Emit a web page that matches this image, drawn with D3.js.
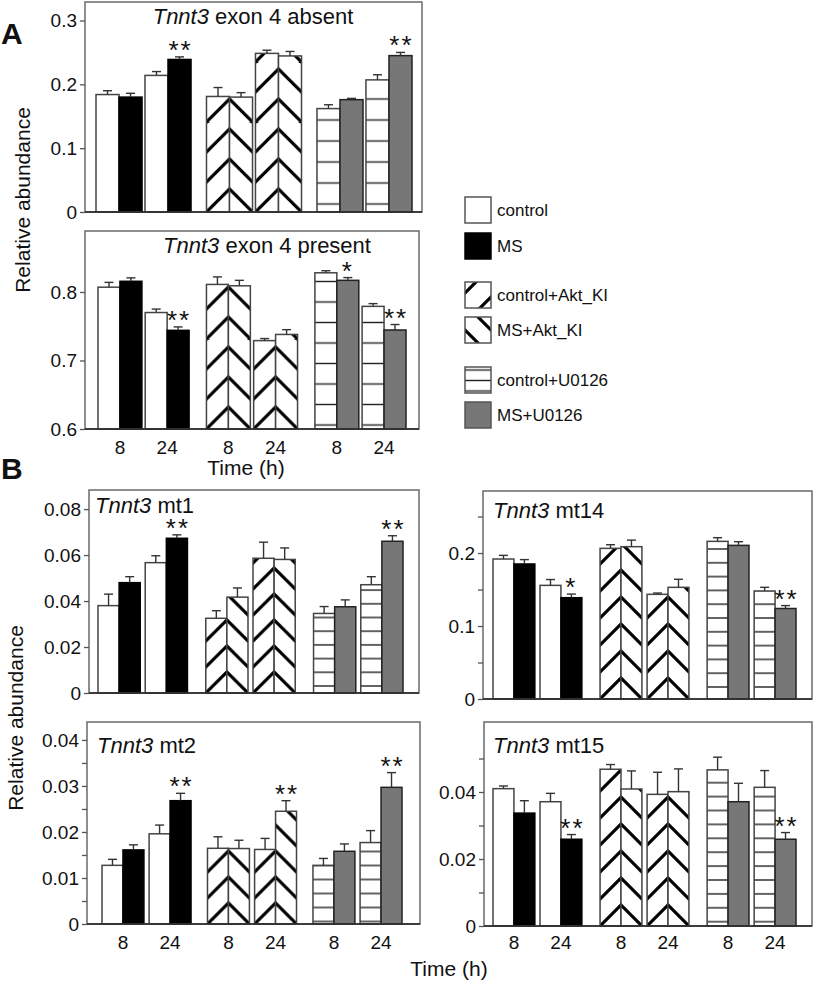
<!DOCTYPE html>
<html><head><meta charset="utf-8">
<script src="https://cdn.jsdelivr.net/npm/d3@7"></script>
<style>
body{margin:0;background:#fff}
svg{display:block}
text{font-family:"Liberation Sans",Arial,Helvetica,sans-serif;fill:#111}
</style>
</head><body>
<svg id="c" width="815" height="990"></svg>
<script>
// ---------------- DATA ----------------
const conditions = ["control", "MS", "control+Akt_KI", "MS+Akt_KI", "control+U0126", "MS+U0126"];
const treatmentGroups = ["vehicle", "Akt_KI", "U0126"];
const timeLabels = ["8", "24"];

// bar order: [group][time][control, MS]
const exon4AbsentValues = [0.184, 0.180, 0.214, 0.239, 0.181, 0.180, 0.2485, 0.2445, 0.162, 0.176, 0.207, 0.245];
const exon4AbsentErrors = [0.006, 0.006, 0.006, 0.004, 0.014, 0.007, 0.005, 0.007, 0.006, 0.002, 0.008, 0.005];
const exon4AbsentSig    = ["", "", "", "**", "", "", "", "", "", "", "", "**"];

const exon4PresentValues = [0.807, 0.8156, 0.770, 0.744, 0.811, 0.809, 0.729, 0.738, 0.828, 0.817, 0.779, 0.7445];
const exon4PresentErrors = [0.007, 0.005, 0.005, 0.005, 0.011, 0.008, 0.003, 0.007, 0.003, 0.004, 0.004, 0.008];
const exon4PresentSig    = ["", "", "", "**", "", "", "", "", "", "*", "", "**"];

const mt1Values = [0.038, 0.048, 0.0567, 0.0673, 0.0325, 0.0417, 0.0586, 0.0581, 0.0346, 0.0375, 0.0471, 0.066];
const mt1Errors = [0.005, 0.0026, 0.003, 0.0015, 0.0033, 0.004, 0.007, 0.005, 0.003, 0.003, 0.0035, 0.0024];
const mt1Sig    = ["", "", "", "**", "", "", "", "", "", "", "", "**"];

const mt14Values = [0.1918, 0.185, 0.1557, 0.1388, 0.2064, 0.2087, 0.1434, 0.153, 0.216, 0.2105, 0.148, 0.124];
const mt14Errors = [0.005, 0.006, 0.008, 0.005, 0.005, 0.009, 0.0018, 0.011, 0.005, 0.005, 0.005, 0.004];
const mt14Sig    = ["", "", "", "*", "", "", "", "", "", "", "", "**"];

const mt2Values = [0.01275, 0.0161, 0.0196, 0.0268, 0.01645, 0.0164, 0.0162, 0.0245, 0.01275, 0.0158, 0.0177, 0.0297];
const mt2Errors = [0.0013, 0.0011, 0.0019, 0.0016, 0.0025, 0.0018, 0.0024, 0.0023, 0.0015, 0.0016, 0.0026, 0.0032];
const mt2Sig    = ["", "", "", "**", "", "", "", "**", "", "", "", "**"];

const mt15Values = [0.041, 0.0337, 0.0371, 0.0259, 0.0468, 0.0409, 0.0393, 0.0401, 0.0466, 0.0371, 0.0414, 0.0259];
const mt15Errors = [0.0008, 0.0037, 0.0025, 0.0014, 0.0014, 0.0054, 0.0066, 0.0068, 0.0038, 0.0055, 0.005, 0.002];
const mt15Sig    = ["", "", "", "**", "", "", "", "", "", "", "", "**"];

const exon4AbsentTicks = [0, 0.1, 0.2, 0.3];
const exon4AbsentTickLabels = ["0", "0.1", "0.2", "0.3"];
const exon4PresentTicks = [0.6, 0.7, 0.8];
const exon4PresentTickLabels = ["0.6", "0.7", "0.8"];
const mt1Ticks = [0, 0.02, 0.04, 0.06, 0.08];
const mt1TickLabels = ["0", "0.02", "0.04", "0.06", "0.08"];
const mt14Ticks = [0, 0.05, 0.1, 0.15, 0.2, 0.25];
const mt14TickLabels = ["0", "", "0.1", "", "0.2", ""];
const mt2Ticks = [0, 0.005, 0.01, 0.015, 0.02, 0.025, 0.03, 0.035, 0.04];
const mt2TickLabels = ["0", "", "0.01", "", "0.02", "", "0.03", "", "0.04"];
const mt15Ticks = [0, 0.01, 0.02, 0.03, 0.04, 0.05];
const mt15TickLabels = ["0", "", "0.02", "", "0.04", ""];

// ---------------- LAYOUT ----------------
const FONT = '"Liberation Sans",Arial,Helvetica,sans-serif';
const panels = [
  {values: exon4AbsentValues, errors: exon4AbsentErrors, sig: exon4AbsentSig, ticks: exon4AbsentTicks, tickLabels: exon4AbsentTickLabels,
   rest: " exon 4 absent", domain: [0, 0.329], frame: {l: 85, r: 422, t: 2, b: 212}, bars: [96, 412], gp: 0.14, pp: 0.06,
   title: {x: 253, y: 24, anchor: "middle"}, xlab: null, diagP: 30, horizP: 21, horizOff: 8},
  {values: exon4PresentValues, errors: exon4PresentErrors, sig: exon4PresentSig, ticks: exon4PresentTicks, tickLabels: exon4PresentTickLabels,
   rest: " exon 4 present", domain: [0.6, 0.889], frame: {l: 85, r: 419, t: 231, b: 429}, bars: [98, 406], gp: 0.16, pp: 0.07,
   title: {x: 267, y: 253, anchor: "middle"}, xlab: 454, diagP: 30, horizP: 20.5, horizOff: 4},
  {values: mt1Values, errors: mt1Errors, sig: mt1Sig, ticks: mt1Ticks, tickLabels: mt1TickLabels,
   rest: " mt1", domain: [0, 0.0883], frame: {l: 89, r: 419, t: 490, b: 693}, bars: [98, 403], gp: 0.17, pp: 0.106,
   title: {x: 95, y: 513, anchor: "start"}, xlab: null, diagP: 26, horizP: 13.7, horizOff: 7},
  {values: mt14Values, errors: mt14Errors, sig: mt14Sig, ticks: mt14Ticks, tickLabels: mt14TickLabels,
   rest: " mt14", domain: [0, 0.285], frame: {l: 483, r: 812, t: 491, b: 699}, bars: [493, 796], gp: 0.17, pp: 0.11,
   title: {x: 493, y: 518, anchor: "start"}, xlab: null, diagP: 27, horizP: 13.8, horizOff: 12},
  {values: mt2Values, errors: mt2Errors, sig: mt2Sig, ticks: mt2Ticks, tickLabels: mt2TickLabels,
   rest: " mt2", domain: [0, 0.0439], frame: {l: 87, r: 420, t: 722, b: 924}, bars: [102, 402], gp: 0.156, pp: 0.11,
   title: {x: 97, y: 753, anchor: "start"}, xlab: 949, diagP: 26, horizP: 14, horizOff: 2.5},
  {values: mt15Values, errors: mt15Errors, sig: mt15Sig, ticks: mt15Ticks, tickLabels: mt15TickLabels,
   rest: " mt15", domain: [0, 0.0609], frame: {l: 484, r: 812, t: 722, b: 926}, bars: [493, 796], gp: 0.17, pp: 0.11,
   title: {x: 493, y: 753, anchor: "start"}, xlab: 949, diagP: 27, horizP: 13.9, horizOff: 4.3}
];

const styleOf = {
  "control":        {fill: "#fff", stroke: "#444"},
  "MS":             {fill: "#000", stroke: "#000"},
  "control+Akt_KI": {pattern: "fwd", stroke: "#444"},
  "MS+Akt_KI":      {pattern: "back", stroke: "#444"},
  "control+U0126":  {pattern: "horiz", stroke: "#444"},
  "MS+U0126":       {fill: "#777", stroke: "#222"}
};

const svg = d3.select("#c");
const defs = svg.append("defs");
let patCount = 0;
function makePattern(type, x, y, w, period, phase) {
  const id = "pat" + (patCount++);
  const p = defs.append("pattern").attr("id", id).attr("patternUnits", "userSpaceOnUse")
    .attr("x", x).attr("y", y + (phase || 0)).attr("width", w).attr("height", period);
  p.append("rect").attr("width", w).attr("height", period).attr("fill", "#fff");
  if (type === "fwd" || type === "back") {
    const n = Math.ceil(w / period) + 2;
    for (let j = -1; j <= n; j++) {
      const c = j * period;
      const ln = p.append("line").attr("stroke", "#000").attr("stroke-width", 3.2);
      if (type === "fwd") ln.attr("x1", -2).attr("y1", c + 2).attr("x2", w + 2).attr("y2", c - w - 2);
      else ln.attr("x1", -2).attr("y1", c - w - 2).attr("x2", w + 2).attr("y2", c + 2);
    }
  } else {
    p.append("line").attr("x1", 0).attr("x2", w).attr("y1", period / 2).attr("y2", period / 2)
      .attr("stroke", "#222").attr("stroke-width", 1.4);
  }
  return `url(#${id})`;
}

function drawPanel(P) {
  const g = svg.append("g");
  const f = P.frame;
  const y = d3.scaleLinear().domain(P.domain).range([f.b, f.t]);
  const x0 = d3.scaleBand().domain(treatmentGroups).range(P.bars).paddingInner(P.gp).paddingOuter(0);
  const x1 = d3.scaleBand().domain(timeLabels).range([0, x0.bandwidth()]).paddingInner(P.pp).paddingOuter(0);
  const x2 = d3.scaleBand().domain(["control", "treated"]).range([0, x1.bandwidth()]);

  const data = P.values.map((v, i) => {
    const gi = Math.floor(i / 4), ti = Math.floor((i % 4) / 2), k = i % 2;
    return {v, e: P.errors[i], sig: P.sig[i], grp: treatmentGroups[gi], time: timeLabels[ti],
            k: k ? "treated" : "control", cond: conditions[gi * 2 + k]};
  });
  data.forEach(d => {
    d.x = x0(d.grp) + x1(d.time) + x2(d.k);
    d.w = x2.bandwidth();
    const s = styleOf[d.cond];
    if (s.pattern === "horiz") d.fill = makePattern("horiz", d.x, f.b - P.horizOff - P.horizP / 2, d.w, P.horizP, 0);
    else if (s.pattern) d.fill = makePattern(s.pattern, d.x, f.b, d.w, P.diagP, 0);
    else d.fill = s.fill;
    d.stroke = s.stroke;
  });

  g.selectAll("rect.bar").data(data).join("rect").attr("class", "bar")
    .attr("x", d => d.x).attr("width", d => d.w)
    .attr("y", d => y(d.v)).attr("height", d => f.b - y(d.v))
    .attr("fill", d => d.fill).attr("stroke", d => d.stroke).attr("stroke-width", 1.5);

  // error bars (upper only)
  const eb = g.selectAll("g.err").data(data).join("g").attr("class", "err");
  eb.append("line").attr("x1", d => d.x + d.w / 2).attr("x2", d => d.x + d.w / 2)
    .attr("y1", d => y(d.v)).attr("y2", d => y(d.v + d.e)).attr("stroke", "#333").attr("stroke-width", 1.4);
  eb.append("line").attr("x1", d => d.x + d.w / 2 - 4.5).attr("x2", d => d.x + d.w / 2 + 4.5)
    .attr("y1", d => y(d.v + d.e)).attr("y2", d => y(d.v + d.e)).attr("stroke", "#333").attr("stroke-width", 1.4);

  // significance stars
  g.selectAll("text.sig").data(data.filter(d => d.sig)).join("text").attr("class", "sig")
    .attr("x", d => d.x + d.w / 2 + (d.sig.length > 1 ? 1 : 0)).attr("y", d => y(d.v + d.e) + 2)
    .attr("text-anchor", "middle").attr("font-size", 26).attr("letter-spacing", 2)
    .text(d => d.sig);

  // frame
  g.append("rect").attr("x", f.l).attr("y", f.t).attr("width", f.r - f.l).attr("height", f.b - f.t)
    .attr("fill", "none").attr("stroke", "#6a6a6a").attr("stroke-width", 1.5);
  g.append("line").attr("x1", f.l).attr("x2", f.r).attr("y1", f.b).attr("y2", f.b)
    .attr("stroke", "#222").attr("stroke-width", 1.5);

  // y axis
  const ax = g.append("g").attr("transform", `translate(${f.l},0)`)
    .call(d3.axisLeft(y).tickValues(P.ticks).tickSize(5).tickPadding(3)
      .tickFormat((d, i) => P.tickLabels[i]));
  ax.select(".domain").remove();
  ax.selectAll(".tick line").attr("stroke", "#555").attr("stroke-width", 1.3);
  ax.selectAll(".tick text").attr("font-size", 19).attr("font-family", FONT).attr("fill", "#111");

  // x labels
  if (P.xlab) {
    const lab = [];
    treatmentGroups.forEach(gr => timeLabels.forEach(t => lab.push({x: x0(gr) + x1(t) + x1.bandwidth() / 2, t})));
    g.selectAll("text.xl").data(lab).join("text").attr("class", "xl")
      .attr("x", d => d.x).attr("y", P.xlab).attr("text-anchor", "middle").attr("font-size", 19).text(d => d.t);
  }

  // title
  const tt = g.append("text").attr("x", P.title.x).attr("y", P.title.y)
    .attr("text-anchor", P.title.anchor).attr("font-size", 22);
  tt.append("tspan").attr("font-style", "italic").text("Tnnt3");
  tt.append("tspan").text(P.rest);
}

panels.forEach(drawPanel);

// panel letters
svg.append("text").attr("x", 1).attr("y", 44).attr("font-size", 30).attr("font-weight", "bold").text("A");
svg.append("text").attr("x", 1).attr("y", 479).attr("font-size", 30).attr("font-weight", "bold").text("B");

// axis titles
svg.append("text").attr("transform", "translate(30,200) rotate(-90)").attr("text-anchor", "middle")
  .attr("font-size", 21).text("Relative abundance");
svg.append("text").attr("transform", "translate(23,718) rotate(-90)").attr("text-anchor", "middle")
  .attr("font-size", 21).text("Relative abundance");
svg.append("text").attr("x", 246).attr("y", 475).attr("text-anchor", "middle").attr("font-size", 21).text("Time (h)");
svg.append("text").attr("x", 449).attr("y", 976).attr("text-anchor", "middle").attr("font-size", 21).text("Time (h)");

// legend
const legendY = [197, 233, 282, 317, 367, 402];
const lg = svg.append("g");
conditions.forEach((c, i) => {
  const s = styleOf[c];
  const bx = 465, by = legendY[i], bs = 26;
  let fill = s.fill;
  if (s.pattern === "fwd") fill = makePattern("fwd", bx, by + bs, bs, 30, -15);
  if (s.pattern === "back") fill = makePattern("back", bx, by + bs, bs, 26, 13);
  if (s.pattern === "horiz") fill = makePattern("horiz", bx, by + 3 - 5.25, bs, 10.5, 0);
  lg.append("rect").attr("x", bx).attr("y", by).attr("width", bs).attr("height", bs)
    .attr("fill", fill).attr("stroke", s.stroke === "#000" ? "#000" : "#555").attr("stroke-width", 1.5);
  lg.append("text").attr("x", 497).attr("y", by + bs / 2 + 6).attr("font-size", 17).text(c);
});
</script>
</body></html>
